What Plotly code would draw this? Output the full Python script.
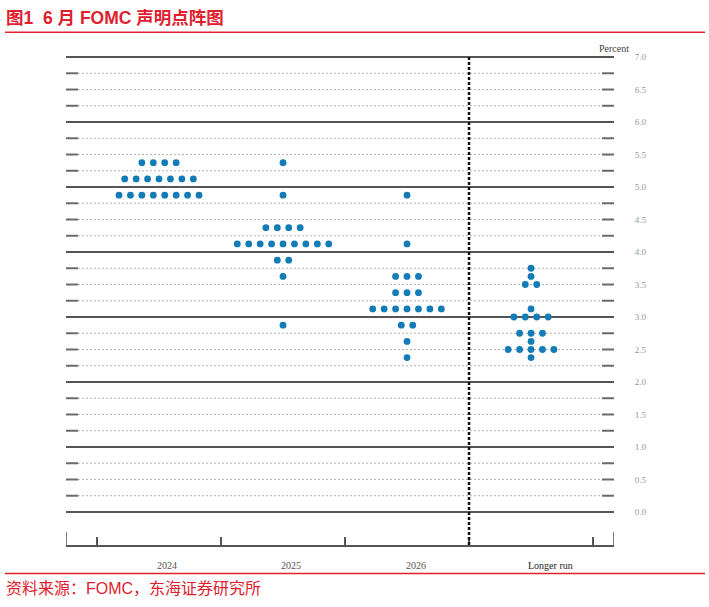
import numpy as np
import plotly.graph_objects as go

# ---------------- data ----------------
categories = ["2024", "2025", "2026", "Longer run"]

levels_2024 = [5.375, 5.125, 4.875]
counts_2024 = [4, 7, 8]

levels_2025 = [5.375, 4.875, 4.375, 4.125, 3.875, 3.625, 2.875]
counts_2025 = [1, 1, 4, 9, 2, 1, 1]

levels_2026 = [4.875, 4.125, 3.625, 3.375, 3.125, 2.875, 2.625, 2.375]
counts_2026 = [1, 1, 3, 3, 7, 2, 1, 1]

levels_lr = [3.75, 3.625, 3.5, 3.125, 3.0, 2.75, 2.625, 2.5, 2.375]
counts_lr = [1, 1, 2, 1, 4, 3, 1, 5, 1]

y_tick_vals = [0.0, 0.5, 1.0, 1.5, 2.0, 2.5, 3.0, 3.5, 4.0, 4.5, 5.0, 5.5, 6.0, 6.5, 7.0]
y_tick_text = ["0.0", "0.5", "1.0", "1.5", "2.0", "2.5", "3.0", "3.5", "4.0", "4.5",
               "5.0", "5.5", "6.0", "6.5", "7.0"]

title_text = "图1  6 月 FOMC 声明点阵图"
source_text = "资料来源：FOMC，东海证券研究所"

# ---------------- layout geometry ----------------
W, H = 709, 607
ML, MR, MT, MB = 66, 95, 40, 62
PW = W - ML - MR
PH = H - MT - MB

X_RANGE = [-0.75, 3.669]
Y_RANGE = [-0.508, 7.262]
DOT_STEP = 0.0922


def px_x(p):
    return (p - ML) / PW


def px_y(p):
    return (H - MB - p) / PH


RED = "#e1202e"
DOT = "#137cb7"
SERIF = "Liberation Serif, Times New Roman, serif"
SANS = "Liberation Sans, Arial, Noto Sans CJK SC, sans-serif"

fig = go.Figure()

all_levels = [levels_2024, levels_2025, levels_2026, levels_lr]
all_counts = [counts_2024, counts_2025, counts_2026, counts_lr]
xs, ys = [], []
for ci, (lv, ct) in enumerate(zip(all_levels, all_counts)):
    for v, n in zip(lv, ct):
        for i in range(n):
            xs.append(ci + (i - (n - 1) / 2) * DOT_STEP)
            ys.append(v)

fig.add_trace(go.Scatter(
    x=xs, y=ys, mode="markers",
    marker=dict(size=6.8, color=DOT, line=dict(width=0)),
    hoverinfo="skip", showlegend=False,
))

shapes = []
grid_levels = np.arange(0, 7.01, 0.25)
left_end = px_x(78)
right_start = px_x(602)
for g in grid_levels:
    if abs(g - round(g)) < 1e-9:
        shapes.append(dict(type="line", xref="paper", yref="y", x0=0, x1=1, y0=g, y1=g,
                           line=dict(color="#555555", width=2), layer="below"))
    else:
        shapes.append(dict(type="line", xref="paper", yref="y", x0=left_end, x1=right_start,
                           y0=g, y1=g, line=dict(color="#b4b4b4", width=1, dash="2px,2px"),
                           layer="below"))
        shapes.append(dict(type="line", xref="paper", yref="y", x0=0, x1=left_end,
                           y0=g, y1=g, line=dict(color="#6a6a6a", width=2), layer="below"))
        shapes.append(dict(type="line", xref="paper", yref="y", x0=right_start, x1=1,
                           y0=g, y1=g, line=dict(color="#6a6a6a", width=2), layer="below"))

# vertical dashed separator between 2026 and longer run
shapes.append(dict(type="line", xref="x", yref="y", x0=2.5, x1=2.5, y0=Y_RANGE[0], y1=7.0,
                   line=dict(color="#111111", width=2.5, dash="3px,2px")))

# tall edge ticks
for xe in X_RANGE:
    shapes.append(dict(type="line", xref="x", yref="paper", x0=xe, x1=xe, y0=0, y1=px_y(532),
                       line=dict(color="#555555", width=1.5)))

# red rules
shapes.append(dict(type="line", xref="paper", yref="paper", x0=px_x(5), x1=px_x(705),
                   y0=px_y(32.3), y1=px_y(32.3), line=dict(color=RED, width=1.5)))
shapes.append(dict(type="line", xref="paper", yref="paper", x0=px_x(5), x1=px_x(705),
                   y0=px_y(573.5), y1=px_y(573.5), line=dict(color=RED, width=1.5)))

annotations = []
label_shift = [8, 8, 9, 19]
for ci, c in enumerate(categories):
    annotations.append(dict(
        x=ci, y=0, xref="x", yref="paper", text=c, showarrow=False,
        xshift=label_shift[ci], yshift=-20, yanchor="middle",
        font=dict(family=SERIF, size=10, color="#222222" if c == "Longer run" else "#555555"),
    ))

annotations.append(dict(x=px_x(614), y=px_y(48), xref="paper", yref="paper", text="Percent",
                        showarrow=False, xanchor="center", yanchor="middle",
                        font=dict(family=SERIF, size=10, color="#444444")))

annotations.append(dict(x=px_x(4), y=px_y(18), xref="paper", yref="paper",
                        text="<b>" + title_text + "</b>", showarrow=False,
                        xanchor="left", yanchor="middle",
                        font=dict(family=SANS, size=17.5, color=RED)))
annotations.append(dict(x=px_x(4), y=px_y(588), xref="paper", yref="paper",
                        text=source_text, showarrow=False,
                        xanchor="left", yanchor="middle",
                        font=dict(family=SANS, size=16, color=RED)))

fig.update_layout(
    width=W, height=H,
    margin=dict(l=ML, r=MR, t=MT, b=MB, autoexpand=False),
    paper_bgcolor="white", plot_bgcolor="white",
    shapes=shapes, annotations=annotations,
    showlegend=False,
    xaxis=dict(
        range=X_RANGE, showgrid=False, zeroline=False,
        showline=True, linecolor="#555555", linewidth=1.5,
        tickvals=[], showticklabels=False,
        minor=dict(tickvals=[-0.5, 0.5, 1.5, 2.5, 3.5], ticks="inside", ticklen=8,
                   tickcolor="#555555", tickwidth=1.5, showgrid=False),
        fixedrange=True,
    ),
    yaxis=dict(
        range=Y_RANGE, side="right", showgrid=False, zeroline=False, showline=False,
        tickvals=y_tick_vals, ticktext=y_tick_text,
        ticks="outside", ticklen=18, tickcolor="rgba(0,0,0,0)",
        tickfont=dict(family=SERIF, size=9, color="#8a98ab"),
        fixedrange=True,
    ),
)

fig.write_html(
    "out.html",
    config={"displayModeBar": False},
    post_script="document.body.style.margin='0px';document.body.style.overflow='hidden';",
)
